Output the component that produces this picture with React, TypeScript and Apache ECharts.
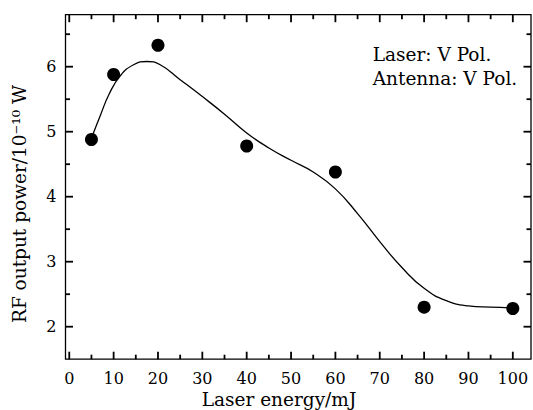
import React, { useEffect, useRef } from "react";
import * as echarts from "echarts";

const energy = [5, 10, 20, 40, 60, 80, 100];
const power = [4.88, 5.88, 6.33, 4.78, 4.38, 2.3, 2.28];

const fitEnergy = [5, 7, 9, 11.5, 14.5, 17.5, 20.5, 25, 30, 35, 40, 45, 50, 55, 60, 65, 70, 75, 80, 85, 90, 95, 100];
const fitPower = [4.9, 5.25, 5.58, 5.86, 6.03, 6.08, 6.03, 5.8, 5.54, 5.27, 4.98, 4.75, 4.56, 4.38, 4.12, 3.74, 3.31, 2.91, 2.59, 2.4, 2.32, 2.3, 2.29];

const xMajor = [0, 10, 20, 30, 40, 50, 60, 70, 80, 90, 100];
const xMinor = [5, 15, 25, 35, 45, 55, 65, 75, 85, 95];
const yMajor = [2, 3, 4, 5, 6];
const yMinor = [2.5, 3.5, 4.5, 5.5, 6.5];

const X_MIN = -0.85;
const X_MAX = 104.1;
const Y_MIN = 1.5;
const Y_MAX = 6.8;

const xTitle = "Laser energy/mJ";
const yTitle = "RF output power/10\u207B\u00B9\u2070 W";
const note1 = "Laser: V Pol.";
const note2 = "Antenna: V Pol.";

const FONT = "DejaVu Serif";
const FS = 16;
const TFS = 18.5;
const BLACK = "#000";
const MAJOR_LEN = 7.5;
const MINOR_LEN = 4.5;
const TICK_W = 1.8;

function buildTickData() {
  const out: any[] = [];
  const addX = (vals: number[], len: number) => {
    vals.forEach((v) => {
      out.push({ value: [v, Y_MIN], symbolSize: [TICK_W, len], symbolOffset: [0, -len / 2] });
      out.push({ value: [v, Y_MAX], symbolSize: [TICK_W, len], symbolOffset: [0, len / 2] });
    });
  };
  const addY = (vals: number[], len: number) => {
    vals.forEach((v) => {
      out.push({ value: [X_MIN, v], symbolSize: [len, TICK_W], symbolOffset: [len / 2, 0] });
      out.push({ value: [X_MAX, v], symbolSize: [len, TICK_W], symbolOffset: [-len / 2, 0] });
    });
  };
  addX(xMajor, MAJOR_LEN);
  addX(xMinor, MINOR_LEN);
  addY(yMajor, MAJOR_LEN);
  addY(yMinor, MINOR_LEN);
  return out;
}

export default function App() {
  const ref = useRef<HTMLDivElement>(null);
  useEffect(() => {
    if (!ref.current) return;
    const chart = echarts.init(ref.current, null, { renderer: "svg" });
    chart.setOption({
      animation: false,
      backgroundColor: "#fff",
      grid: {
        show: true,
        left: 65.5,
        right: 2,
        top: 14.7,
        bottom: 50.8,
        borderColor: BLACK,
        borderWidth: 1.3,
        backgroundColor: "transparent",
      },
      xAxis: {
        type: "value",
        min: X_MIN,
        max: X_MAX,
        axisLine: { show: false },
        axisTick: { show: false },
        axisLabel: { show: false },
        splitLine: { show: false },
      },
      yAxis: {
        type: "value",
        min: Y_MIN,
        max: Y_MAX,
        axisLine: { show: false },
        axisTick: { show: false },
        axisLabel: { show: false },
        splitLine: { show: false },
      },
      series: [
        {
          type: "scatter",
          name: "ticks",
          clip: false,
          silent: true,
          z: 10,
          symbol: "rect",
          data: buildTickData(),
          itemStyle: { color: "#000", opacity: 1 },
        },
        {
          type: "custom",
          clip: false,
          data: xMajor.map((v) => [v, Y_MIN]),
          renderItem: (params: any, api: any) => {
            const p = api.coord([api.value(0), api.value(1)]);
            return {
              type: "text",
              x: p[0],
              y: p[1] + 19,
              style: {
                text: String(api.value(0)),
                fill: BLACK,
                font: `${FS}px "${FONT}"`,
                textAlign: "center",
                textVerticalAlign: "middle",
              },
            };
          },
        },
        {
          type: "custom",
          clip: false,
          data: yMajor.map((v) => [X_MIN, v]),
          renderItem: (params: any, api: any) => {
            const p = api.coord([api.value(0), api.value(1)]);
            return {
              type: "text",
              x: p[0] - 9,
              y: p[1],
              style: {
                text: String(api.value(1)),
                fill: BLACK,
                font: `${FS}px "${FONT}"`,
                textAlign: "right",
                textVerticalAlign: "middle",
              },
            };
          },
        },
        {
          type: "line",
          data: fitEnergy.map((x, i) => [x, fitPower[i]]),
          smooth: 0.5,
          showSymbol: false,
          symbol: "none",
          lineStyle: { color: BLACK, width: 1.3 },
        },
        {
          type: "scatter",
          data: energy.map((x, i) => [x, power[i]]),
          symbol: "circle",
          symbolSize: 13,
          itemStyle: { color: BLACK, opacity: 1 },
        },
      ],
      graphic: [
        {
          type: "text",
          left: 372.7,
          top: 45,
          style: { text: note1, fill: BLACK, font: `${TFS}px "${FONT}"` },
        },
        {
          type: "text",
          left: 372.7,
          top: 69,
          style: { text: note2, fill: BLACK, font: `${TFS}px "${FONT}"` },
        },
        {
          type: "text",
          x: 279,
          y: 399,
          style: {
            text: xTitle,
            fill: BLACK,
            font: `${TFS}px "${FONT}"`,
            textAlign: "center",
            textVerticalAlign: "middle",
          },
        },
        {
          type: "text",
          x: 19,
          y: 204,
          rotation: Math.PI / 2,
          style: {
            text: yTitle,
            fill: BLACK,
            font: `${TFS}px "${FONT}"`,
            textAlign: "center",
            textVerticalAlign: "middle",
          },
        },
      ],
    });
    return () => chart.dispose();
  }, []);
  return <div ref={ref} style={{ position: "fixed", left: 0, top: 0, width: 533, height: 410 }} />;
}
